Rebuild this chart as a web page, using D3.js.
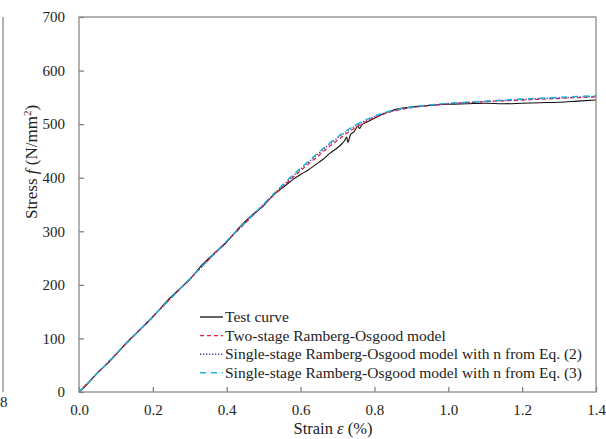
<!DOCTYPE html>
<html>
<head>
<meta charset="utf-8">
<script src="https://cdn.jsdelivr.net/npm/d3@7"></script>
<style>
  body { margin: 0; background: #fff; }
  svg, svg text { font-family: 'Liberation Serif', 'Times New Roman', 'DejaVu Serif', serif; }
  svg text { fill: #222; }
</style>
</head>
<body>
<div id="chart"></div>
<script>
const strainTest = [0, 0.02, 0.05, 0.08, 0.1, 0.13, 0.16, 0.2, 0.24, 0.28, 0.3, 0.33, 0.36, 0.4, 0.43, 0.46, 0.5, 0.53,
  0.56, 0.58, 0.6, 0.62, 0.64, 0.66, 0.68, 0.7, 0.71, 0.72, 0.725, 0.728, 0.735, 0.745, 0.755, 0.76, 0.765, 0.78, 0.8,
  0.82, 0.85, 0.9, 0.95, 1.0, 1.05, 1.1, 1.15, 1.2, 1.25, 1.3, 1.35, 1.4];
const stressTest = [0, 13, 36, 55, 70, 93, 113, 140, 171, 197, 210, 235, 255, 280, 304, 325, 348, 370,
  386, 397, 406, 414, 424, 434, 446, 456, 462, 470, 476, 466, 480, 486, 496, 492, 498, 504, 511,
  518, 526, 532, 535, 537, 538, 539, 538, 539, 540, 541, 543, 545];

// model curves
const strainModel = [0, 0.1, 0.2, 0.3, 0.4, 0.5, 0.55, 0.6, 0.65, 0.7, 0.75, 0.8, 0.85, 0.9, 0.95, 1.0, 1.1, 1.2, 1.3, 1.4];
const twoStage = [0, 70.5, 141, 211, 281, 349, 382, 413, 442, 470, 494, 512, 524, 531, 535, 538, 542, 545, 548, 551];
const singleEq2 = [0, 70.5, 141, 211, 281, 350, 384, 416, 446, 474, 497, 514, 525, 531, 535, 538, 542, 546, 549, 552];
const singleEq3 = [0, 70.5, 141, 211, 282, 351, 386, 418, 448, 476, 499, 515, 526, 532, 536, 539, 543, 547, 550, 553];

const xTicks = [0, 0.2, 0.4, 0.6, 0.8, 1.0, 1.2, 1.4];
const yTicks = [0, 100, 200, 300, 400, 500, 600, 700];

const seriesNames = ['Test curve', 'Two-stage Ramberg-Osgood model',
  'Single-stage Ramberg-Osgood model with n from Eq. (2)', 'Single-stage Ramberg-Osgood model with n from Eq. (3)'];

const FONT = "'Liberation Serif', 'Times New Roman', 'DejaVu Serif', serif";

const W = 606, H = 439;
const margin = {left: 79, right: 10, top: 17, bottom: 47};
const width = W - margin.left - margin.right;
const height = H - margin.top - margin.bottom;

const svg = d3.select('#chart').append('svg')
  .attr('width', W).attr('height', H)
  .attr('font-family', FONT);

// bit of the neighbouring panel on the far left
svg.append('line')
  .attr('x1', 3).attr('x2', 3).attr('y1', margin.top).attr('y2', margin.top + height)
  .style('stroke', '#8a8a8a').style('stroke-width', 1.3);
svg.append('text')
  .attr('x', 0).attr('y', 407)
  .style('font-size', '15px')
  .text('8');

const g = svg.append('g').attr('transform', `translate(${margin.left}, ${margin.top})`);

const xscale = d3.scaleLinear().domain([0, 1.4]).range([0, width]);
const yscale = d3.scaleLinear().domain([0, 700]).range([height, 0]);

const series = [
  {name: seriesNames[0], xs: strainTest, ys: stressTest, color: '#111', dash: null, w: 1.1},
  {name: seriesNames[1], xs: strainModel, ys: twoStage, color: '#e3202b', dash: '4,3', w: 1.2},
  {name: seriesNames[2], xs: strainModel, ys: singleEq2, color: '#5a3aa8', dash: '1.3,1.7', w: 1.4},
  {name: seriesNames[3], xs: strainModel, ys: singleEq3, color: '#1eb4da', dash: '6,5', w: 1.4}
];

const line = d3.line()
  .x(d => xscale(d[0]))
  .y(d => yscale(d[1]))
  .curve(d3.curveMonotoneX);

series.forEach(s => {
  g.append('path')
    .datum(s.xs.map((x, i) => [x, s.ys[i]]))
    .attr('d', line)
    .style('fill', 'none')
    .style('stroke', s.color)
    .style('stroke-width', s.w)
    .style('stroke-dasharray', s.dash);
});

// axes, ticks inward
const xAxis = d3.axisBottom(xscale).tickValues(xTicks).tickFormat(d3.format('.1f'))
  .tickSizeInner(-5).tickSizeOuter(0).tickPadding(12);
const yAxis = d3.axisLeft(yscale).tickValues(yTicks)
  .tickSizeInner(-5).tickSizeOuter(0).tickPadding(14);

const gx = g.append('g').attr('transform', `translate(0, ${height})`).call(xAxis);
const gy = g.append('g').call(yAxis);
[gx, gy].forEach(a => {
  a.attr('font-family', FONT).attr('font-size', 15);
  a.select('.domain').remove();
  a.selectAll('line').style('stroke', '#777').style('stroke-width', 1.2);
  a.selectAll('text').style('fill', '#222');
});

// frame
g.append('rect')
  .attr('width', width).attr('height', height)
  .style('fill', 'none').style('stroke', '#8a8a8a').style('stroke-width', 1.3);

// axis titles
const xt = svg.append('text')
  .attr('x', 333).attr('y', 434)
  .style('text-anchor', 'middle').style('font-size', '16.5px');
xt.append('tspan').text('Strain ');
xt.append('tspan').style('font-style', 'italic').text('ε');
xt.append('tspan').text(' (%)');

const yt = svg.append('text')
  .attr('transform', 'translate(37, 162) rotate(-90)')
  .style('text-anchor', 'middle').style('font-size', '17px');
yt.append('tspan').text('Stress ');
yt.append('tspan').style('font-style', 'italic').text('f');
yt.append('tspan').text(' (N/mm');
yt.append('tspan').attr('dy', -6).style('font-size', '11px').text('2');
yt.append('tspan').attr('dy', 6).text(')');

// legend
const legend = svg.append('g').attr('class', 'legend');
series.forEach((s, i) => {
  const y = 317 + i * 18.6;
  legend.append('line')
    .attr('x1', 200).attr('x2', 223).attr('y1', y).attr('y2', y)
    .style('stroke', s.color).style('stroke-width', s.w + 0.2)
    .style('stroke-dasharray', s.dash);
  legend.append('text')
    .attr('x', 225).attr('y', y).attr('dy', '0.33em')
    .style('font-size', '15.5px')
    .text(s.name);
});
</script>
</body>
</html>
